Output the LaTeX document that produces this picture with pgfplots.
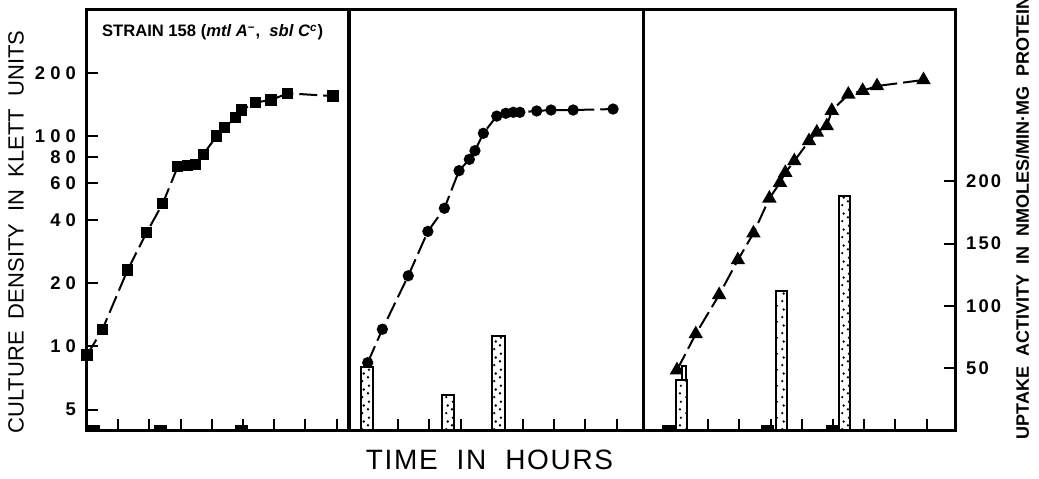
\documentclass[border=0pt]{standalone}
\usepackage{fontspec}
\setmainfont{Liberation Sans}
\newfontfamily\tickfont[LetterSpace=28]{Liberation Sans}
\newfontfamily\rtickfont[LetterSpace=12]{Liberation Sans}
\newfontfamily\titlefont[LetterSpace=6]{Liberation Sans}
\usepackage{pgfplots}
\pgfplotsset{compat=1.18}
\usetikzlibrary{patterns.meta}

\tikzdeclarepattern{
  name=sdots,
  type=uncolored,
  bottom left={(0pt,0pt)},
  top right={(6pt,8pt)},
  tile size={(6pt,8pt)},
  code={
    \fill (1.2pt,1.0pt) circle (0.7pt);
    \fill (4.3pt,3.0pt) circle (0.7pt);
    \fill (2.0pt,5.0pt) circle (0.7pt);
    \fill (4.8pt,7.0pt) circle (0.7pt);
  }
}

\begin{document}
\begin{tikzpicture}
\useasboundingbox (-43.5pt,-24pt) rectangle (476pt,215pt);

% ---------- Panel 1 ----------
\begin{axis}[scale only axis, anchor=south west, at={(0pt,0pt)},
  width=131pt, height=210pt, xmin=0, xmax=8.4,
  ymode=log, ymin=4, ymax=400,
  axis line style={line width=1.5pt},
  every tick/.style={line width=1pt, black},
  major tick length=5.5pt, minor tick length=0pt,
  xtick pos=left, ytick pos=left,
  xtick={1,2,3,4,5,6,7,8}, xticklabels={},
  ytick={5,10,20,40,60,80,100,200},
  yticklabels={5,10,20,40,60,80,100,200},
  yticklabel style={font=\tickfont\fontsize{9.2}{10}\selectfont\bfseries, xshift=-2pt}]
\addplot[black, line width=1pt, dash pattern=on 9pt off 3pt,
  mark=square*, mark size=2.3pt, mark options={solid, fill=black}] coordinates {
(0,9.1)(0.49,12.0)(1.30,23.1)(1.91,34.8)(2.43,48.0)(2.91,71.8)(3.23,72.4)
(3.49,73.7)(3.73,82.2)(4.16,100.5)(4.42,110.5)(4.75,122.8)(4.96,133.6)
(5.41,145.3)(5.90,149)(6.43,160.4)(7.89,155.7)};
\end{axis}
\begin{axis}[scale only axis, anchor=south west, at={(0pt,0pt)},
  width=131pt, height=210pt, hide axis, xmin=0, xmax=8.4, ymin=0, ymax=338]
\addplot[ybar, bar width=0.385, bar shift=0pt, draw=black, fill=black, line width=0.5pt]
  coordinates {(0.21,3.5)(2.37,3.5)(4.95,3.5)};
\end{axis}

% ---------- Panel 2 ----------
\begin{axis}[scale only axis, anchor=south west, at={(131pt,0pt)},
  width=147pt, height=210pt, xmin=-0.58, xmax=8.85,
  ymode=log, ymin=4, ymax=400,
  axis line style={line width=1.5pt},
  every tick/.style={line width=1pt, black},
  major tick length=5.5pt, minor tick length=0pt,
  xtick pos=left,
  xtick={0,1,2,3,4,5,6,7,8}, xticklabels={}, ytick=\empty]
\addplot[black, line width=1pt, dash pattern=on 9pt off 3pt,
  mark=*, mark size=2.3pt, mark options={solid, fill=black}] coordinates {
(0.02,8.37)(0.49,12.07)(1.32,21.7)(1.95,35.3)(2.48,45.5)(2.95,68.7)(3.28,77.8)
(3.46,85.5)(3.73,103.5)(4.16,125)(4.45,128.9)(4.69,130.3)(4.90,130.3)
(5.44,132.2)(5.90,133.6)(6.61,133.6)(7.89,135)};
\end{axis}
\begin{axis}[scale only axis, anchor=south west, at={(131pt,0pt)},
  width=147pt, height=210pt, hide axis, xmin=-0.58, xmax=8.85, ymin=0, ymax=338]
\addplot[ybar, bar width=0.4, bar shift=0pt, draw=black, line width=1pt, fill=white,
  postaction={pattern=sdots, pattern color=black}]
  coordinates {(0,51)(2.59,28)(4.22,75.7)};
\end{axis}

% ---------- Panel 3 ----------
\begin{axis}[scale only axis, anchor=south west, at={(278pt,0pt)},
  width=156pt, height=210pt, xmin=-1.09, xmax=8.91,
  ymode=log, ymin=4, ymax=400,
  axis line style={line width=1.5pt},
  every tick/.style={line width=1pt, black},
  major tick length=5.5pt, minor tick length=0pt,
  xtick pos=left,
  xtick={0,1,2,3,4,5,6,7,8}, xticklabels={}, ytick=\empty]
\addplot[black, line width=1pt, dash pattern=on 9pt off 3pt,
  mark=triangle*, mark size=3.2pt, mark options={solid, fill=black}] coordinates {
(0,7.72)(0.6,11.46)(1.35,17.6)(1.95,25.8)(2.45,34.6)(2.96,50.7)(3.30,60.2)
(3.47,67.2)(3.76,76.4)(4.23,95.1)(4.48,104.6)(4.80,112.1)(4.96,132.6)
(5.49,158.6)(5.95,165.1)(6.41,173.8)(7.90,185.8)};
\end{axis}
\begin{axis}[scale only axis, anchor=south west, at={(278pt,0pt)},
  width=156pt, height=210pt, xmin=-1.09, xmax=8.91, ymin=0, ymax=338,
  axis line style={line width=1.5pt},
  every tick/.style={line width=1pt, black},
  major tick length=5.5pt, minor tick length=0pt,
  xtick=\empty, ytick={50,100,150,200}, ytick pos=right, yticklabel pos=right,
  yticklabels={50,100,150,200},
  yticklabel style={font=\rtickfont\fontsize{9.2}{10}\selectfont\bfseries, xshift=2pt}]
\addplot[ybar, bar width=0.385, bar shift=0pt, draw=black, fill=black, line width=0.5pt]
  coordinates {(-0.26,3.5)(2.90,3.5)(4.97,3.5)};
\addplot[ybar, bar width=0.14, bar shift=0pt, draw=black, line width=1pt, fill=white,
  postaction={pattern=sdots, pattern color=black}]
  coordinates {(0.22,51.5)};
\addplot[ybar, bar width=0.35, bar shift=0pt, draw=black, line width=1pt, fill=white,
  postaction={pattern=sdots, pattern color=black}]
  coordinates {(0.13,40)(3.36,112)(5.37,188.5)};
\end{axis}

% ---------- Labels ----------
\node[anchor=west, font=\fontsize{8.3}{9}\selectfont\bfseries] at (4pt,198.75pt)
  {STRAIN\ 158 (\textit{mtl A}\textsuperscript{−},\ \ \textit{sbl C}\textsuperscript{\textit{c}})};
\node[rotate=90, font=\fontsize{11}{12}\selectfont] at (-35.5pt,99pt)
  {CULTURE\ \ DENSITY\ \ IN\ \ KLETT\ \ UNITS};
\node[font=\titlefont\fontsize{14}{16}\selectfont] at (201.25pt,-15pt)
  {TIME\ \ IN\ \ HOURS};
\node[rotate=90, anchor=west, font=\fontsize{9}{10}\selectfont\bfseries, inner sep=0pt]
  at (467.75pt,-5pt) {UPTAKE\ \ ACTIVITY\ \ IN\ \ NMOLES/MIN·MG\ \ PROTEIN};
\end{tikzpicture}
\end{document}
